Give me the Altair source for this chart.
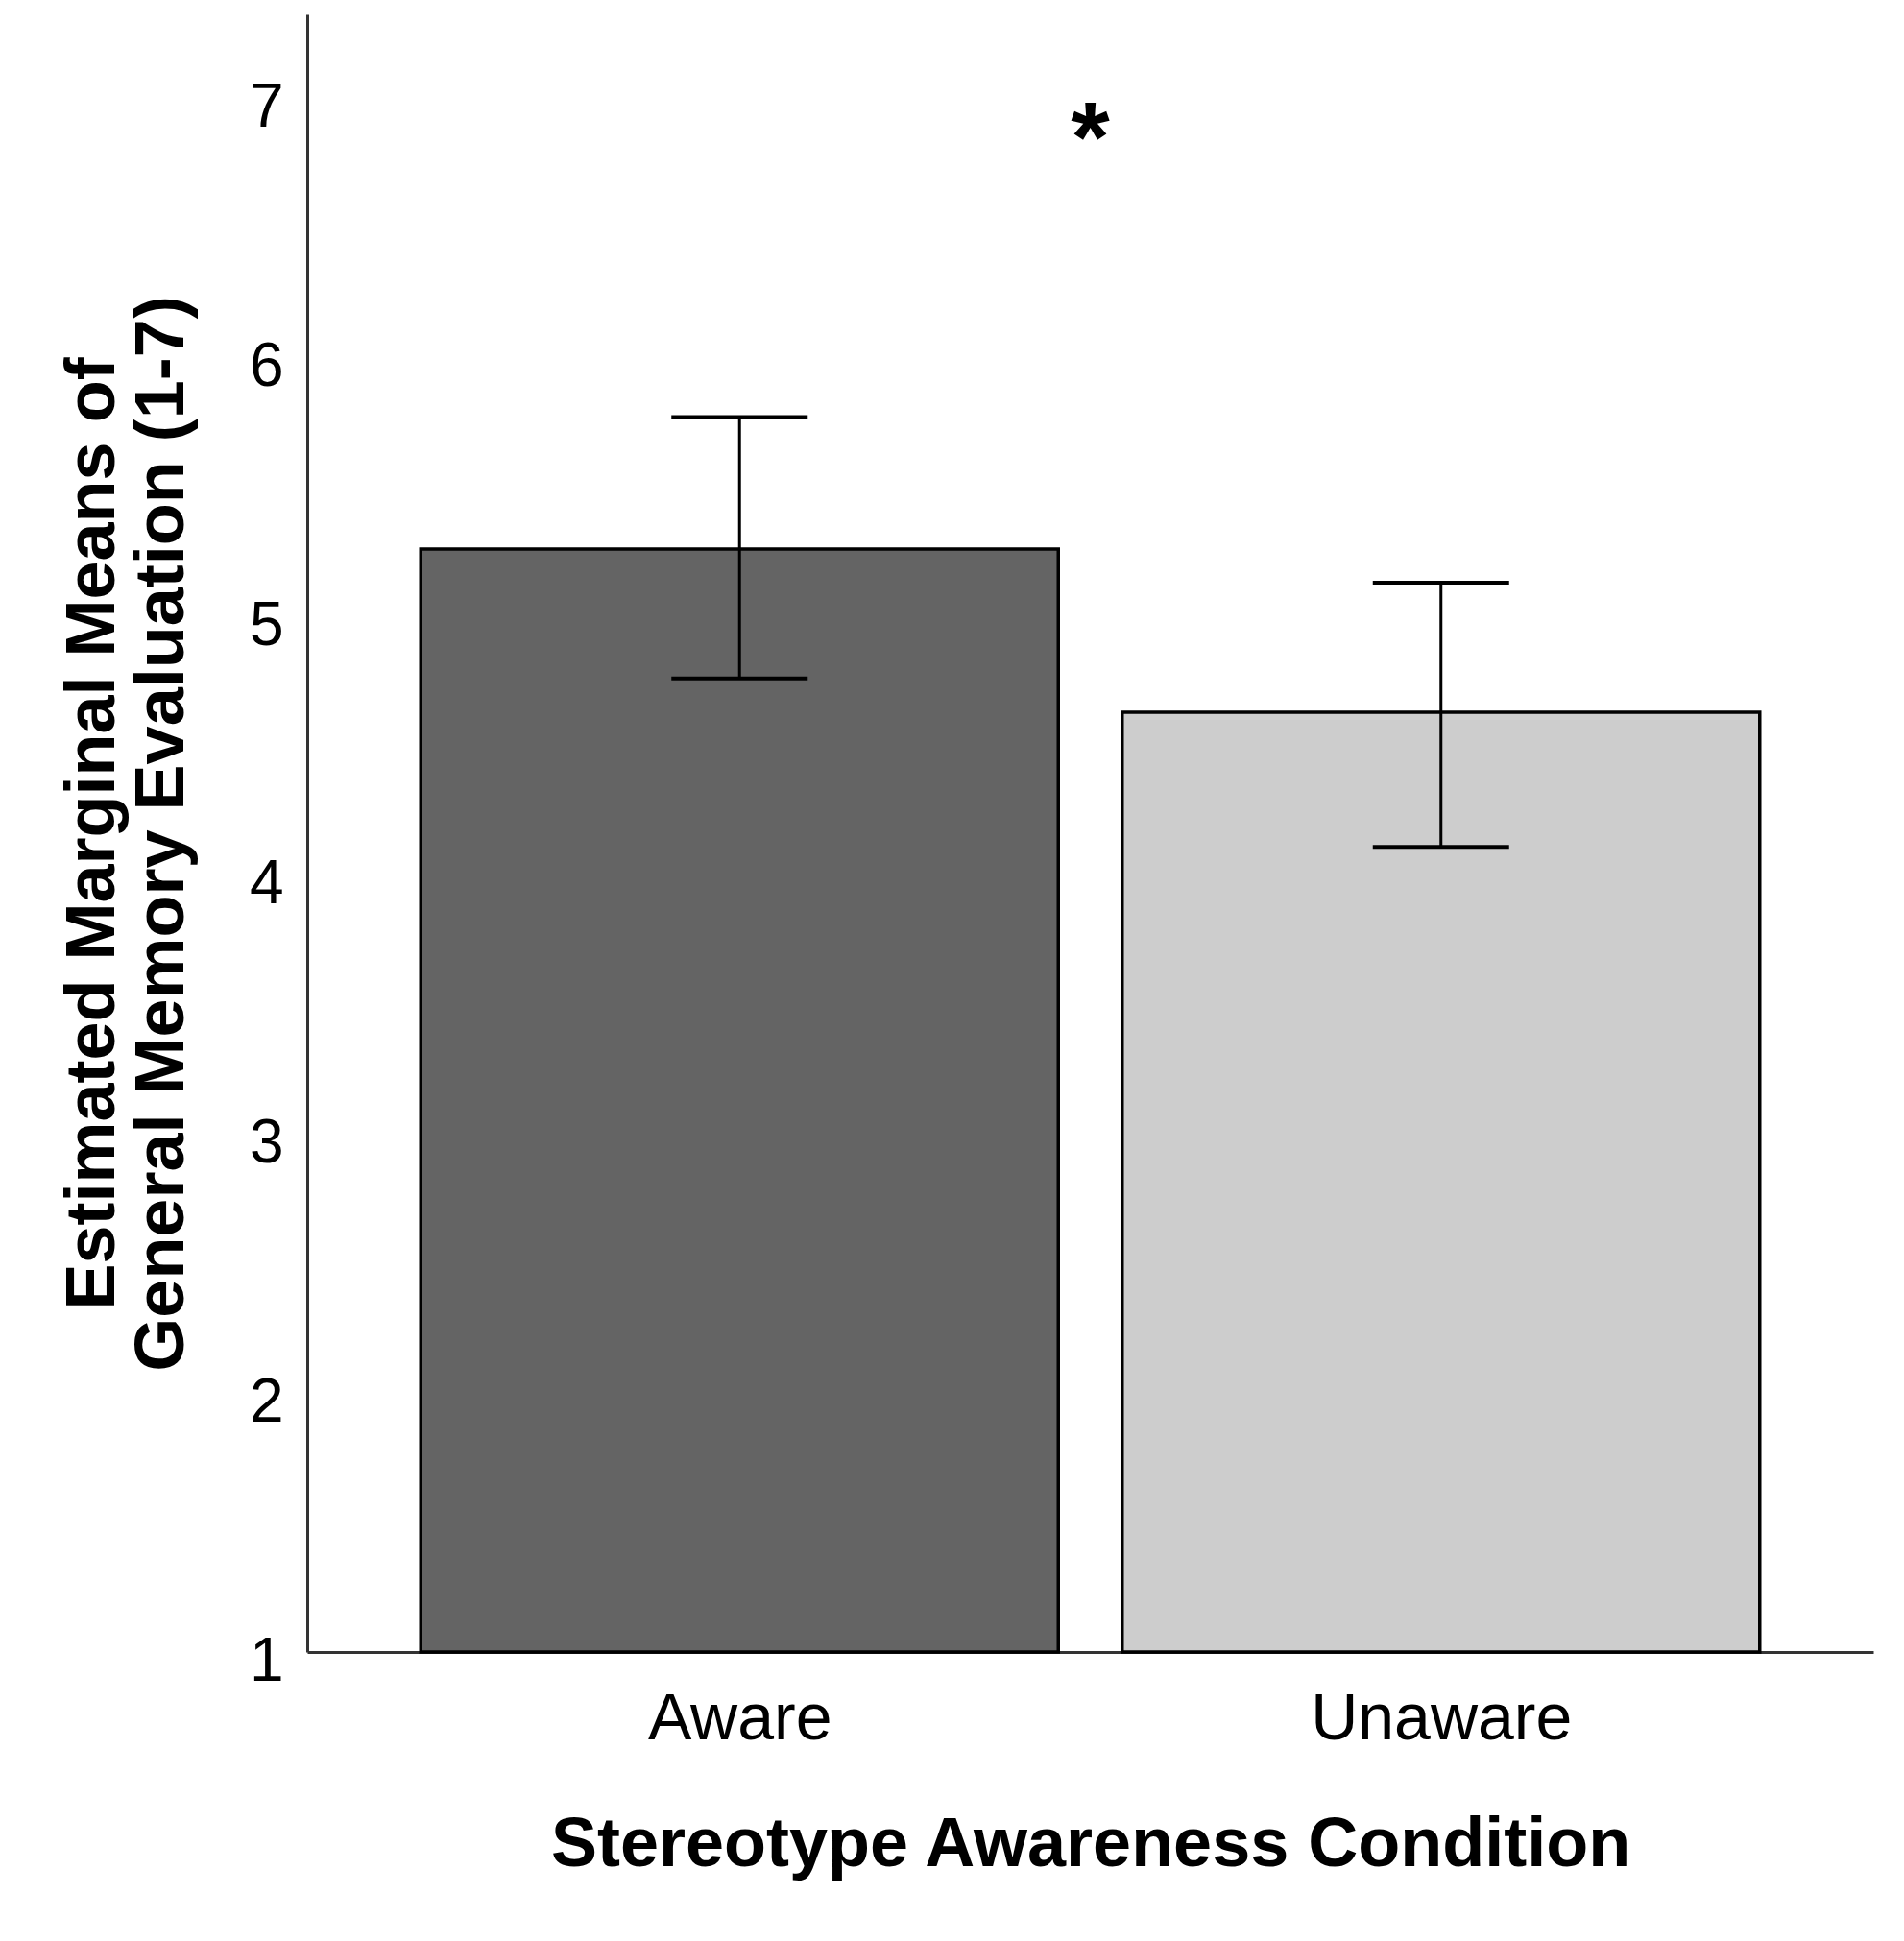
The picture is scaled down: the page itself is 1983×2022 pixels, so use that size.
import altair as alt
import pandas as pd

# ---- data ----
conditions = ["Aware", "Unaware"]
means = [5.26, 4.63]
ci_upper = [5.77, 5.13]
ci_lower = [4.76, 4.11]
bar_colors = ["#646464", "#cdcdcd"]
sig_label = "*"
sig_y = 6.9
y_ticks = [1, 2, 3, 4, 5, 6, 7]

positions = [i + 1 for i in range(len(conditions))]
df = pd.DataFrame({
    "pos": positions,
    "cond": conditions,
    "mean": means,
    "upper": ci_upper,
    "lower": ci_lower,
    "color": bar_colors,
    "base": [min(y_ticks)] * len(conditions),
})
sig_df = pd.DataFrame({"pos": [sum(positions) / len(positions)], "y": [sig_y], "t": [sig_label]})

FONT = "Liberation Sans"
W, H = 1631, 1706

label_expr = " : ".join(
    [f"datum.value == {p} ? '{c}'" for p, c in zip(positions, conditions)] + ["''"]
)

x_scale = alt.Scale(domain=[0.3905, 2.6095], nice=False, zero=False)
y_scale = alt.Scale(domain=[1, 7.325], nice=False, zero=False)

x_axis = alt.Axis(
    values=positions, labelExpr=label_expr, title="Stereotype Awareness Condition",
    grid=False, ticks=False, tickSize=0, domainColor="#333333", domainWidth=3,
    labelFont=FONT, labelFontSize=68, labelColor="black", labelPadding=36, labelLimit=0,
    titleFont=FONT, titleFontSize=72, titleFontWeight="bold", titleColor="black",
    titleX=W / 2, titleY=222, titleBaseline="alphabetic", titleAlign="center",
)
y_axis = alt.Axis(
    values=y_ticks, format="d", title=["Estimated Marginal Means of", "General Memory Evaluation (1-7)"],
    grid=False, ticks=False, tickSize=0, domainColor="#333333", domainWidth=3,
    labelFont=FONT, labelFontSize=64, labelColor="black", labelPadding=25, labelOffset=10,
    titleFont=FONT, titleFontSize=72, titleFontWeight="bold", titleColor="black",
    titleLineHeight=72, titleAngle=270, titleAlign="center", titleBaseline="bottom",
    titleX=-187, titleY=H / 2,
)

base = alt.Chart(df)

bars = base.mark_bar(size=664, stroke="black", strokeWidth=3.5).encode(
    x=alt.X("pos:Q", scale=x_scale, axis=x_axis),
    y=alt.Y("mean:Q", scale=y_scale, axis=y_axis),
    y2="base:Q",
    fill=alt.Fill("color:N", scale=None),
)

rules = base.mark_rule(color="black", strokeWidth=3).encode(
    x="pos:Q", y="lower:Q", y2="upper:Q"
)
cap_up = base.mark_tick(orient="horizontal", size=142, thickness=4, color="black", opacity=1).encode(
    x="pos:Q", y="upper:Q"
)
cap_lo = base.mark_tick(orient="horizontal", size=142, thickness=4, color="black", opacity=1).encode(
    x="pos:Q", y="lower:Q"
)

sig = alt.Chart(sig_df).mark_text(
    font=FONT, fontSize=104, fontWeight="bold", color="black", baseline="middle", dy=18
).encode(x="pos:Q", y="y:Q", text="t:N")

chart = alt.layer(bars, rules, cap_up, cap_lo, sig).properties(
    width=W, height=H,
    padding={"left": 312, "top": 7, "right": 20, "bottom": 290},
    autosize=alt.AutoSizeParams(type="none"),
    background="white",
).configure_view(stroke=None)

chart.save("out.html", embed_options={"renderer": "svg", "actions": False})
